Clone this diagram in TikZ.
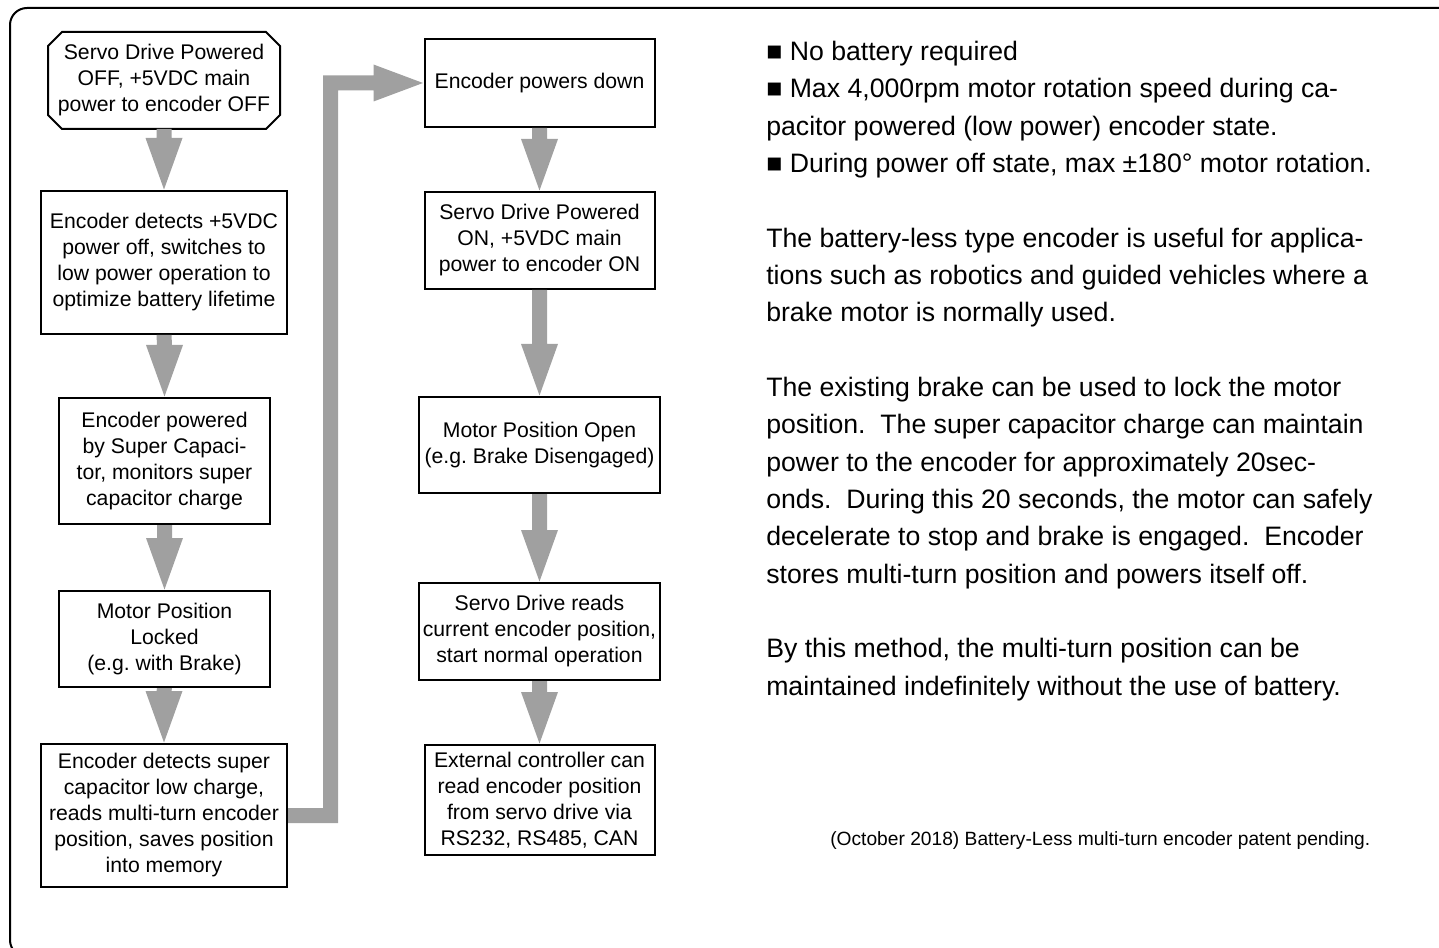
\documentclass[tikz,border=0pt]{standalone}
\usepackage{fontspec}
\setmainfont{Liberation Sans}
\usetikzlibrary{calc}
\definecolor{arrowgray}{RGB}{160,160,160}
\frenchspacing
\newcommand\myboxfont{\fontsize{15.9pt}{19.5pt}\selectfont}
\newcommand\mybodyfont{\fontsize{20pt}{28pt}\selectfont}
\newcommand\myfootfont{\fontsize{14.4pt}{17pt}\selectfont}
\newcommand\flowarrow[2]{%
  \fill[arrowgray] ($(#1.south)+(-7.5,0)$) -- ($(#2.north)+(-7.5,-52)$)
    -- ($(#2.north)+(-18.5,-52)$) -- ($(#2.north)+(0,-0.5)$)
    -- ($(#2.north)+(18.5,-52)$) -- ($(#2.north)+(7.5,-52)$)
    -- ($(#1.south)+(7.5,0)$) -- cycle;}
\tikzset{
  box/.style={draw=black, line width=1.5pt, fill=white, inner sep=0pt,
    align=center, font=\myboxfont},
  frameline/.style={draw=black, line width=1.5pt},
}
\begin{document}
\begin{tikzpicture}[x=0.75pt,y=-0.75pt]
\useasboundingbox (0,0) rectangle (1439,948);
\begin{scope}
  \clip (0,0) rectangle (1439,948);
  \draw[frameline, rounded corners=12.75pt] (10,8) rectangle (1480,957);
\end{scope}

% left column
\node[box, draw=none, fill=none, minimum width=172.5pt, minimum height=71.25pt] (n1) at (164,80.5)
  {Servo Drive Powered\\OFF, +5VDC main\\power to encoder OFF};
\draw[frameline] ($(n1.north west)+(14,0)$) -- ($(n1.north east)+(-14,0)$)
  -- ($(n1.north east)+(0,14)$) -- ($(n1.south east)+(0,-14)$)
  -- ($(n1.south east)+(-14,0)$) -- ($(n1.south west)+(14,0)$)
  -- ($(n1.south west)+(0,-14)$) -- ($(n1.north west)+(0,14)$) -- cycle;
\node[box, minimum width=184.5pt, minimum height=107.25pt] (n2) at (164,262.5)
  {Encoder detects +5VDC\\power off, switches to\\low power operation to\\optimize battery lifetime};
\node[box, minimum width=158.25pt, minimum height=94.5pt] (n3) at (164.5,461)
  {Encoder powered\\by Super Capaci-\\tor, monitors super\\capacitor charge};
\node[box, minimum width=158.25pt, minimum height=72pt] (n4) at (164.5,639)
  {Motor Position\\Locked\\(e.g. with Brake)};
\node[box, minimum width=184.5pt, minimum height=107.25pt] (n5) at (164,815.5)
  {Encoder detects super\\capacitor low charge,\\reads multi-turn encoder\\position, saves position\\into memory};

% right column
\node[box, minimum width=172.5pt, minimum height=66pt] (n6) at (539.5,83)
  {Encoder powers down};
\node[box, minimum width=172.5pt, minimum height=72.75pt] (n7) at (539.5,240.5)
  {Servo Drive Powered\\ON, +5VDC main\\power to encoder ON};
\node[box, minimum width=180.75pt, minimum height=72pt] (n8) at (539.5,445)
  {Motor Position Open\\(e.g. Brake Disengaged)};
\node[box, minimum width=180.75pt, minimum height=72.75pt] (n9) at (539.5,631.5)
  {Servo Drive reads\\current encoder position,\\start normal operation};
\node[box, minimum width=172.5pt, minimum height=82.5pt] (n10) at (539.5,800)
  {External controller can\\read encoder position\\from servo drive via\\RS232, RS485, CAN};

% arrows
\flowarrow{n1}{n2}
\flowarrow{n2}{n3}
\flowarrow{n3}{n4}
\flowarrow{n4}{n5}
\flowarrow{n6}{n7}
\flowarrow{n7}{n8}
\flowarrow{n8}{n9}
\flowarrow{n9}{n10}

% elbow connector n5 -> n6
\coordinate (vL) at (323,0);
\coordinate (vR) at (338,0);
\coordinate (e5u) at ($(n5.east)+(0,-7.5)$);
\coordinate (e5d) at ($(n5.east)+(0,7.5)$);
\coordinate (h6u) at ($(n6.west)+(-50,-7.5)$);
\coordinate (h6d) at ($(n6.west)+(-50,7.5)$);
\fill[arrowgray] (e5d) -- (vR |- e5d) -- (vR |- h6d) -- (h6d)
  -- ($(n6.west)+(-50,18.5)$) -- ($(n6.west)+(-0.5,0)$) -- ($(n6.west)+(-50,-18.5)$)
  -- (h6u) -- (vL |- h6u) -- (vL |- e5u) -- (e5u) -- cycle;

% text block
\node[anchor=base west, align=left, inner sep=0pt, font=\mybodyfont] (txt) at (766,695)
  {■ No battery required\\
   ■ Max 4,000rpm motor rotation speed during ca-\\
   pacitor powered (low power) encoder state.\\
   ■ During power off state, max ±180° motor rotation.\\[28pt]
   The battery-less type encoder is useful for applica-\\
   tions such as robotics and guided vehicles where a\\
   brake motor is normally used.\\[28pt]
   The existing brake can be used to lock the motor\\
   position.\ \ The super capacitor charge can maintain\\
   power to the encoder for approximately 20sec-\\
   onds.\ \ During this 20 seconds, the motor can safely\\
   decelerate to stop and brake is engaged.\ \ Encoder\\
   stores multi-turn position and powers itself off.\\[28pt]
   By this method, the multi-turn position can be\\
   maintained indefinitely without the use of battery.};

\node[anchor=base west, inner sep=0pt, font=\myfootfont] (foot) at (830,845)
  {(October 2018) Battery-Less multi-turn encoder patent pending.};
\end{tikzpicture}
\end{document}
